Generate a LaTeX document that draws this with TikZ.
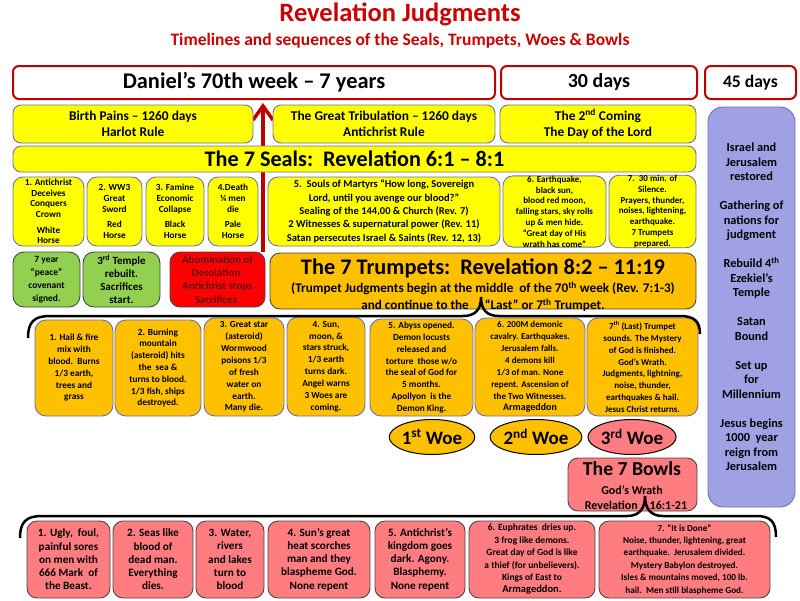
\documentclass[tikz,border=0pt]{standalone}
\usepackage{fontspec}
\setmainfont{Carlito}
\usetikzlibrary{arrows.meta,shapes.geometric,backgrounds}
\definecolor{tred}{RGB}{204,0,0}
\definecolor{dred}{RGB}{192,0,0}
\definecolor{yel}{RGB}{255,255,0}
\definecolor{org}{RGB}{255,192,0}
\definecolor{pnk}{RGB}{255,124,128}
\definecolor{grn}{RGB}{146,208,80}
\definecolor{lav}{RGB}{160,160,228}
\definecolor{bbord}{RGB}{110,110,180}
\definecolor{gbord}{RGB}{70,70,70}
\definecolor{abtxt}{RGB}{100,0,0}
\newcommand\fz[2]{\fontsize{#1}{#2}\selectfont\bfseries}
\newcommand\bx[8]{\node[#2, minimum width={#5-#3}, minimum height={#6-#4}, #7] (#1) at ({(#3+#5)/2},{(#4+#6)/2}) {#8};}
\tikzset{
  redbox/.style={draw=dred, line width=2pt, fill=white, rounded corners=6pt},
  ybox/.style={draw=bbord, line width=0.9pt, fill=yel, rounded corners=8pt},
  sealbox/.style={draw=bbord, line width=0.9pt, fill=yel, rounded corners=10pt},
  lavbox/.style={draw=bbord, line width=0.9pt, fill=lav, rounded corners=15pt},
  grnbox/.style={draw=gbord, line width=0.9pt, fill=grn, rounded corners=11pt},
  abox/.style={draw=gbord, line width=0.9pt, fill=red, rounded corners=10pt, text=abtxt},
  obox/.style={draw=bbord, line width=0.9pt, fill=org, rounded corners=11pt},
  ohead/.style={draw=gbord, line width=0.9pt, fill=org, rounded corners=10pt},
  pbox/.style={draw=gbord, line width=0.9pt, fill=pnk, rounded corners=10pt},
  woe/.style={draw=black, line width=1pt, ellipse, minimum width=77pt, minimum height=35pt, inner sep=0pt, font=\fz{19}{21}},
  brace/.style={draw=black, line width=2.5pt}
}
\begin{document}
\begin{tikzpicture}[x=1pt, y=-1pt, font=\bfseries, every node/.append style={align=center, inner sep=0pt}]
\useasboundingbox (0,0) rectangle (800,600);
% titles
\node[text=tred, font=\fz{26.5}{28}] (title) at (400,14) {Revelation Judgments};
\node[text=tred, font=\fz{17.5}{20}] (subtitle) at (400,41) {Timelines and sequences of the Seals, Trumpets, Woes \& Bowls};
% row 1
\bx{dan}{redbox}{13}{66}{495}{99}{font=\fz{22.4}{25}}{Daniel’s 70th week – 7 years}
\bx{thirty}{redbox}{501}{66}{697}{99}{font=\fz{20}{23}}{30 days}
\bx{fortyfive}{redbox}{705}{66}{796}{99}{font=\fz{17.6}{20}}{45 days}
% row 2
\bx{birth}{ybox}{13}{105}{253}{143}{font=\fz{13.4}{16}}{Birth Pains – 1260 days\\Harlot Rule}
\bx{trib}{ybox}{273}{105}{495}{143}{font=\fz{13.4}{16}}{The Great Tribulation – 1260 days\\Antichrist Rule}
\bx{coming}{ybox}{500}{105}{696}{143}{font=\fz{13.4}{16}}{The 2\textsuperscript{nd} Coming\\The Day of the Lord}
% right column
\bx{post}{lavbox}{708}{107}{795}{507}{font=\fz{12.3}{14.5}}{Israel and\\Jerusalem\\restored\\[14.5pt]Gathering of\\nations for\\judgment\\[14.5pt]Rebuild 4\textsuperscript{th}\\Ezekiel’s\\Temple\\[14.5pt]Satan\\Bound\\[14.5pt]Set up\\for\\Millennium\\[14.5pt]Jesus begins\\1000\ \ year\\reign from\\Jerusalem}
% seals
\bx{seals}{ybox}{13}{146}{696}{172}{font=\fz{22.2}{26}}{The 7 Seals:\ \ Revelation 6:1 – 8:1}
\bx{s1}{sealbox}{13}{177}{84}{246}{font=\fz{9.3}{10.7}}{1. Antichrist\\Deceives\\Conquers\\Crown\\[5pt]White\\Horse}
\bx{s2}{sealbox}{87}{177}{142}{246}{font=\fz{9.3}{10.7}}{2. WW3\\Great\\Sword\\[5pt]Red\\Horse}
\bx{s3}{sealbox}{146}{177}{204}{246}{font=\fz{9.3}{10.7}}{3. Famine\\Economic\\Collapse\\[5pt]Black\\Horse}
\bx{s4}{sealbox}{208}{177}{258}{246}{font=\fz{9.3}{10.7}}{4.Death\\¼ men\\die\\[5pt]Pale\\Horse}
\bx{s5}{sealbox}{268}{177}{500}{246}{font=\fz{10.5}{13.3}}{5.\ \ Souls of Martyrs “How long,\ Sovereign\\Lord, until you avenge our blood?”\\Sealing of the 144,00 \& Church (Rev. 7)\\2 Witnesses \& supernatural power (Rev. 11)\\Satan persecutes Israel \& Saints\ (Rev. 12, 13)}
\bx{s6}{sealbox}{503}{177}{606}{246}{font=\fz{9}{10.8}}{6. Earthquake,\\black sun,\\blood red moon,\\falling stars, sky rolls\\up \& men hide.\\“Great day of His\\wrath has come”}
\bx{s7}{sealbox}{609}{177}{696}{246}{font=\fz{9}{10.8}}{7.\ \ 30 min. of\\Silence.\\Prayers, thunder,\\noises, lightening,\\earthquake.\\7 Trumpets\\prepared.}
% row 4
\bx{g1}{grnbox}{13}{252}{80}{307}{font=\fz{9.5}{13}}{7 year\\“peace”\\covenant\\signed.}
\bx{g2}{grnbox}{83}{252}{160}{307}{font=\fz{11}{13}}{3\textsuperscript{rd} Temple\\rebuilt.\\Sacrifices\\start.}
\bx{abom}{abox}{170}{252}{265}{307}{font=\fz{10.9}{13.3}}{Abomination of\\Desolation.\\Antichrist stops\\Sacrifices.}
\bx{trump}{ohead}{270}{253}{696}{309}{}{}
\node[font=\fz{22.3}{24}] (trumpt) at (483,268) {The 7 Trumpets:\ \ Revelation 8:2 – 11:19};
\node[font=\fz{13.2}{17}] (trumps) at (483,296.5) {(Trumpet Judgments begin at the middle\ \ of the 70\textsuperscript{th} week (Rev. 7:1-3)\\and continue to the\hspace{16pt}“Last” or 7\textsuperscript{th} Trumpet.};
% red arrow, behind the seals header
\coordinate (arrtip) at (263,103);
\begin{scope}[on background layer]
\draw[dred, line width=3.5pt, -{Straight Barb[length=14pt,width=20pt]}] (abom.north -| arrtip) -- (arrtip);
\end{scope}
% trumpet boxes
\bx{t1}{obox}{35}{320}{113}{416}{font=\fz{9.3}{11.8}}{1. Hail \& fire\\mix with\\blood.\ \ Burns\\1/3 earth,\\trees and\\grass}
\bx{t2}{obox}{115}{320}{201}{416}{font=\fz{9.3}{11.8}}{2. Burning\\mountain\\(asteroid) hits\\the\ \ sea \&\\turns to blood.\\1/3 fish, ships\\destroyed.}
\bx{t3}{obox}{204}{318}{284}{416}{font=\fz{9.3}{11.9}}{3. Great star\\(asteroid)\\Wormwood\\poisons 1/3\\of fresh\\water on\\earth.\\Many die.}
\bx{t4}{obox}{287}{317}{365}{416}{font=\fz{9.3}{11.9}}{4. Sun,\\moon, \&\\stars struck,\\1/3 earth\\turns dark.\\Angel warns\\3 Woes are\\coming.}
\bx{t5}{obox}{370}{319}{473}{416}{font=\fz{9.3}{11.9}}{5. Abyss opened.\\Demon locusts\\released and\\torture\ \ those w/o\\the seal of God for\\5 months.\\Apollyon\ \ is the\\Demon King.}
\bx{t6}{obox}{475}{318}{585}{416}{font=\fz{9}{11.9}}{6. 200M demonic\\cavalry. Earthquakes.\\Jerusalem falls.\\4 demons kill\\1/3 of man. None\\repent. Ascension of\\the Two Witnesses.\\{\fz{10}{11.9}Armageddon}}
\bx{t7}{obox}{587}{318}{698}{416}{font=\fz{9}{11.9}}{7\textsuperscript{th} (Last) Trumpet\\sounds. The Mystery\\of God is finished.\\God’s Wrath.\\Judgments, lightning,\\noise, thunder,\\earthquakes \& hail.\\Jesus Christ returns.}
% brace 1
\coordinate (b1l) at (28,338);
\coordinate (b1t) at (481,297);
\coordinate (b1r) at (700,334);
\draw[brace] (b1l) .. controls (28,322) and (34,316) .. (50,316) -- (463,316) .. controls (475,316) and (481,310) .. (b1t) .. controls (481,310) and (487,316) .. (499,316) -- (680,316) .. controls (694,316) and (700,321) .. (b1r);
% woes
\node[woe, fill=org] (w1) at (432,437) {1\textsuperscript{st} Woe};
\node[woe, fill=org] (w2) at (536,437) {2\textsuperscript{nd} Woe};
\node[woe, fill=pnk] (w3) at (632,437) {3\textsuperscript{rd} Woe};
% bowls header
\bx{bowls}{pbox}{568}{458}{697}{511}{}{}
\node[font=\fz{19.7}{21}] (bowlt) at (632,469) {The 7 Bowls};
\node[font=\fz{12}{14}] (bowlw) at (632,490) {God’s Wrath};
\node[font=\fz{12}{14}] (bowlr) at (636,505) {Revelation\hspace{12pt}16:1-21};
% bowl boxes
\bx{b1}{pbox}{27}{521}{110}{598}{font=\fz{11.2}{13.2}}{1. Ugly,\ \ foul,\\painful sores\\on men with\\666 Mark\ \ of\\the Beast.}
\bx{b2}{pbox}{113}{521}{193}{598}{font=\fz{11.2}{13.2}}{2. Seas like\\blood of\\dead man.\\Everything\\dies.}
\bx{b3}{pbox}{196}{521}{264}{598}{font=\fz{11.2}{13.2}}{3. Water,\\rivers\\and lakes\\turn to\\blood}
\bx{b4}{pbox}{268}{521}{370}{598}{font=\fz{11.2}{13.2}}{4. Sun’s great\\heat scorches\\man and they\\blaspheme God.\\None repent}
\bx{b5}{pbox}{375}{521}{465}{598}{font=\fz{11.2}{13.2}}{5. Antichrist’s\\kingdom goes\\dark. Agony.\\Blasphemy.\\None repent}
\bx{b6}{pbox}{469}{521}{595}{598}{font=\fz{9.5}{12.4}}{6. Euphrates\ \ dries up.\\3 frog like demons.\\Great day of God is like\\a thief (for unbelievers).\\Kings of East to\\{\fz{10.5}{12.4}Armageddon.}}
\bx{b7}{pbox}{599}{521}{770}{598}{font=\fz{9.2}{12.4}}{7. “It is Done”\\Noise, thunder, lightening, great\\earthquake.\ \ Jerusalem divided.\\Mystery Babylon destroyed.\\Isles \& mountains moved, 100 lb.\\hail.\ \ Men still blaspheme God.}
% brace 2
\coordinate (b2l) at (20,538);
\coordinate (b2t) at (645,496);
\coordinate (b2r) at (776,537);
\draw[brace] (b2l) .. controls (20,522) and (26,516) .. (42,516) -- (627,516) .. controls (639,516) and (645,509) .. (b2t) .. controls (645,509) and (651,516) .. (663,516) -- (756,516) .. controls (770,516) and (776,521) .. (b2r);
\end{tikzpicture}
\end{document}
